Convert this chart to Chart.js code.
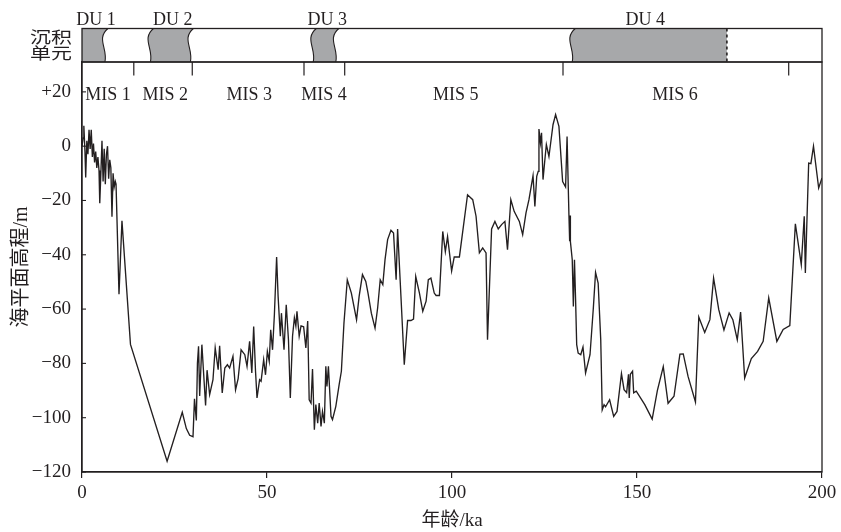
<!DOCTYPE html>
<html>
<head>
<meta charset="utf-8">
<script src="https://cdn.jsdelivr.net/npm/chart.js@4.4.1/dist/chart.umd.min.js"></script>
<style>
    html, body { margin: 0; padding: 0; background: #fff; }
</style>
</head>
<body>
<canvas id="graficoNivelMar" width="841" height="532"></canvas>
<script>
// idade (ka) e nivel do mar (m)
const idade = [
    0, 0.3, 0.5, 0.8, 1.0, 1.3, 1.6, 1.9, 2.2, 2.5, 2.8, 3.1, 3.4, 3.7, 4.0, 4.3, 4.6, 4.8, 5.1, 5.4,
    5.7, 6.0, 6.3, 6.6, 6.9, 7.2, 7.5, 7.8, 8.1, 8.4, 8.7, 9.0, 9.2, 10.0, 10.8, 13.1, 23.0, 27.1, 28.2, 29.1,
    30.0, 30.4, 30.9, 31.2, 31.5, 31.8, 32.4, 33.4, 33.8, 34.5, 35.4, 36.0, 36.8, 37.2, 37.9, 38.6, 39.3, 39.9, 40.8, 41.5,
    42.2, 43.0, 44.0, 44.6, 45.3, 45.9, 46.4, 46.9, 47.3, 48.0, 48.4, 49.1, 49.6, 50.1, 50.6, 51.0, 51.5, 52.0, 52.6, 53.0,
    53.6, 53.9, 54.6, 55.2, 55.8, 56.3, 56.9, 57.4, 57.8, 58.1, 58.7, 59.2, 59.9, 60.5, 61.0, 61.4, 61.9, 62.3, 62.8, 63.2,
    63.7, 64.1, 64.6, 65.0, 65.5, 65.9, 66.2, 66.6, 67.3, 67.7, 68.6, 69.5, 70.1, 70.8, 71.7, 72.8, 73.5, 74.2, 74.9, 75.8,
    76.7, 77.3, 78.2, 79.2, 79.9, 80.6, 81.3, 81.9, 82.6, 83.5, 84.2, 84.9, 85.3, 86.2, 87.1, 88.0, 88.9, 89.6, 90.2, 91.2,
    92.1, 93.0, 93.6, 94.3, 95.2, 95.7, 96.6, 97.5, 98.2, 98.8, 99.9, 100.6, 102.0, 104.2, 105.6, 106.5, 107.4, 108.3, 109.2, 109.6,
    110.7, 111.6, 112.5, 113.4, 114.3, 115.0, 115.9, 116.8, 118.2, 119.1, 120.0, 120.8, 121.9, 122.4, 122.9, 123.3, 123.5, 123.9, 124.2, 124.6,
    125.1, 125.5, 126.2, 127.3, 128.0, 128.9, 129.9, 130.7, 131.1, 131.6, 131.8, 131.9, 132.0, 132.5, 132.8, 133.1, 133.4, 133.7, 134.1, 134.8,
    135.4, 136.1, 137.3, 138.2, 138.8, 139.5, 140.2, 140.6, 141.1, 141.5, 142.6, 143.7, 144.6, 145.8, 146.5, 147.2, 147.7, 147.9, 148.2, 148.8,
    149.1, 149.8, 152.1, 154.1, 155.5, 157.1, 158.4, 160.0, 161.6, 162.5, 163.8, 165.8, 166.7, 168.3, 169.7, 170.7, 172.1, 173.5, 174.9, 175.9,
    177.1, 178.0, 179.1, 180.9, 182.6, 184.1, 185.6, 187.8, 189.5, 191.3, 192.8, 194.4, 195.2, 195.5, 196.4, 197.0, 197.7, 199.1, 200
];
const nivelMar = [
    0, 3, 7.5, -2, -11.5, 2, -3, 6, -1, 6, -4, 1, -6, -2, -8, -4, -9, -21, -10, 2,
    -13, -1, -14, -3, 0, -12, -5, -8, -26, -10, -15, -13, -14, -54.5, -27.5, -73, -116, -98, -104, -106.5,
    -107, -93, -101, -80, -73.7, -92, -73.1, -95.5, -82.5, -91.5, -86, -74.3, -82.3, -73.5, -90.9, -81.7, -80.5, -81.7, -77.4, -89.7,
    -85.6, -75, -76.8, -81.1, -71.9, -83.5, -66.4, -83, -92.7, -86, -86.6, -78.6, -84.2, -75.6, -79.2, -67.6, -75, -62, -40.8, -55.3,
    -70, -61.5, -75, -58.4, -71.3, -92.7, -70, -63.2, -66.2, -60.8, -70, -66.2, -66.5, -74.3, -64.4, -93.4, -94.6, -82.1, -104.4, -95.2,
    -102, -94.6, -103.2, -97.7, -102, -81.1, -88.5, -81.1, -99.5, -100.7, -95.8, -87.8, -82.9, -65.1, -49.2, -54.1, -59, -63.9, -55.3, -47.3,
    -49.8, -54.1, -61.5, -67, -59.6, -49.2, -51, -41.8, -34.4, -31, -32, -49.2, -30.5, -55.3, -80.5, -64.2, -64.2, -63.7, -48, -54.1,
    -60.8, -57.1, -49.2, -48.6, -54.1, -55, -55, -31.4, -38.8, -33.3, -46, -40.8, -40.8, -17.9, -19.7, -25.8, -39.3, -37.5, -39.3, -71.3,
    -30.5, -27.7, -30.5, -28.9, -27.7, -38.1, -19.7, -24, -27.7, -32.6, -24.6, -19.7, -10.9, -22.2, -11.1, -9.3, 6.3, 1.2, 4.9, -12.3,
    -5, 0.6, -3.8, 7.9, 11.6, 7.3, -13, -15, 3.6, -25.2, -35, -25.5, -35.1, -41.8, -59, -41.8, -56.5, -73.1, -76.2, -76.8,
    -74, -83.5, -76.8, -59.6, -46.5, -50.4, -71.3, -97.1, -95.2, -96, -93.4, -99.5, -97.7, -83.8, -89.7, -90.8, -84, -92.7, -84, -82.9,
    -90.8, -90.2, -95.2, -100.5, -90, -81.2, -94.7, -92.1, -76.6, -76.5, -84.8, -94.2, -62.9, -68.6, -63.9, -48.6, -60.2, -67.7, -61.4, -63.9,
    -71.3, -61.1, -85.4, -78.2, -75.6, -71.9, -55.9, -71.9, -67.5, -66.1, -28.6, -43.6, -25.8, -46.7, -6.2, -6.4, 0, -15.4, -11.7
];

// eixos
const ticksX = [0, 50, 100, 150, 200];
const ticksY = [-120, -110, -100, -90, -80, -70, -60, -50, -40, -30, -20, -10, 0, 10, 20, 30];

// estagios isotopicos (MIS)
const misLimites = [14, 29.8, 60, 71, 130, 191];
const misNomes = ['MIS 1', 'MIS 2', 'MIS 3', 'MIS 4', 'MIS 5', 'MIS 6'];
const misCentros = [7, 22.5, 45.2, 65.4, 101, 160.3];

// unidades deposicionais (DU)
const duNomes = ['DU 1', 'DU 2', 'DU 3', 'DU 4'];
const duInicio = [0, 18.5, 62.5, 132.5];
const duFim = [6.2, 29.3, 68.6, 174.3];
const duCentros = [3.8, 24.5, 66.3, 152.2];

const corLinha = '#231f20';
const fonte = '"Liberation Serif", "Noto Sans CJK SC", serif';

// borda ondulada (forma de S suave), de cima para baixo e de baixo para cima
function ondaDesce(ctx, x, topo, base) {
    const h = base - topo;
    ctx.bezierCurveTo(x - 9, topo + h * 0.3, x + 3, topo + h * 0.6, x, base);
}
function ondaSobe(ctx, x, topo, base) {
    const h = base - topo;
    ctx.bezierCurveTo(x + 3, topo + h * 0.6, x - 9, topo + h * 0.3, x + 3, topo);
}

const faixaDU = {
    id: 'faixaDU',
    afterDraw(chart) {
        const ctx = chart.ctx;
        const xs = chart.scales.x;
        const ys = chart.scales.y;
        const area = chart.chartArea;
        const topo = area.top - 33.5;
        const base = area.top;

        ctx.save();

        // preenchimento cinza
        for (let i = 0; i < duNomes.length; i++) {
            const x0 = xs.getPixelForValue(duInicio[i]);
            const x1 = xs.getPixelForValue(duFim[i]);
            const ondaEsq = i > 0;
            const ondaDir = i < 3;

            ctx.beginPath();
            ctx.moveTo(ondaEsq ? x0 + 3 : x0, topo);
            ctx.lineTo(ondaDir ? x1 + 3 : x1, topo);
            if (ondaDir) ondaDesce(ctx, x1, topo, base);
            else ctx.lineTo(x1, base);
            ctx.lineTo(ondaEsq ? x0 : x0, base);
            if (ondaEsq) ondaSobe(ctx, x0, topo, base);
            ctx.closePath();
            ctx.fillStyle = '#a7a8aa';
            ctx.fill();

            ctx.strokeStyle = corLinha;
            ctx.lineWidth = 1.1;
            if (ondaEsq) {
                ctx.beginPath();
                ctx.moveTo(x0 + 3, topo);
                ondaDesce(ctx, x0, topo, base);
                ctx.stroke();
            }
            if (ondaDir) {
                ctx.beginPath();
                ctx.moveTo(x1 + 3, topo);
                ondaDesce(ctx, x1, topo, base);
                ctx.stroke();
            } else {
                ctx.setLineDash([3, 3]);
                ctx.lineWidth = 1.6;
                ctx.beginPath();
                ctx.moveTo(x1, topo);
                ctx.lineTo(x1, base);
                ctx.stroke();
                ctx.setLineDash([]);
            }

            ctx.fillStyle = corLinha;
            ctx.font = '18px ' + fonte;
            ctx.textAlign = 'center';
            ctx.textBaseline = 'alphabetic';
            ctx.fillText(duNomes[i], xs.getPixelForValue(duCentros[i]), topo - 4);
        }

        // moldura da faixa e do grafico
        ctx.strokeStyle = corLinha;
        ctx.lineWidth = 1.3;
        ctx.strokeRect(area.left, topo, area.right - area.left, base - topo);
        ctx.strokeRect(area.left, area.top, area.right - area.left, area.bottom - area.top);

        // marcas dos limites MIS
        ctx.lineWidth = 1.2;
        misLimites.forEach(v => {
            const x = xs.getPixelForValue(v);
            ctx.beginPath();
            ctx.moveTo(x, base);
            ctx.lineTo(x, base + 13.5);
            ctx.stroke();
        });

        ctx.fillStyle = corLinha;
        ctx.font = '18px ' + fonte;
        ctx.textAlign = 'center';
        ctx.textBaseline = 'alphabetic';
        misNomes.forEach((nome, i) => {
            ctx.fillText(nome, xs.getPixelForValue(misCentros[i]), base + 37.5);
        });

        // marcas internas do eixo y
        ctx.lineWidth = 1.1;
        ys.ticks.forEach(t => {
            const y = ys.getPixelForValue(t.value);
            ctx.beginPath();
            ctx.moveTo(area.left, y);
            ctx.lineTo(area.left + 4, y);
            ctx.stroke();
        });

        // rotulo da faixa
        ctx.font = '21px ' + fonte;
        ctx.textAlign = 'right';
        ctx.textBaseline = 'middle';
        ctx.translate(72, 0);
        ctx.scale(1, 0.78);
        ctx.fillText('沉积', 0, 39 / 0.78);
        ctx.fillText('单元', 0, 55 / 0.78);

        ctx.restore();
    }
};

const ctx = document.getElementById('graficoNivelMar');

new Chart(ctx, {
    type: 'line',

    data: {
        datasets: [
            {
                data: idade.map((a, i) => ({ x: a, y: nivelMar[i] })),
                borderColor: corLinha,
                borderWidth: 1.35,
                pointRadius: 0,
                tension: 0
            }
        ]
    },

    options: {
        responsive: false,
        animation: false,
        layout: {
            padding: { top: 62, right: 19, bottom: 0, left: 0 }
        },
        plugins: {
            legend: { display: false },
            tooltip: { enabled: false }
        },
        scales: {
            x: {
                type: 'linear',
                min: 0,
                max: 200,
                afterBuildTicks: s => { s.ticks = ticksX.map(v => ({ value: v })); },
                afterFit: s => { s.height = 60; },
                border: { display: true, color: corLinha, width: 1.3 },
                grid: { drawOnChartArea: false, tickLength: 6, color: corLinha, lineWidth: 1.2 },
                ticks: {
                    padding: 4,
                    color: corLinha,
                    font: { family: fonte, size: 19 },
                    maxRotation: 0
                },
                title: {
                    display: true,
                    text: '年龄/ka',
                    color: corLinha,
                    font: { family: fonte, size: 19 },
                    padding: { top: 1, bottom: 0 }
                }
            },
            y: {
                min: -120,
                max: 31,
                afterBuildTicks: s => { s.ticks = ticksY.map(v => ({ value: v })); },
                afterFit: s => { s.width = 82; },
                border: { display: true, color: corLinha, width: 1.3 },
                grid: { display: true, drawOnChartArea: false, drawTicks: false },
                ticks: {
                    padding: 11,
                    color: corLinha,
                    font: { family: fonte, size: 19 },
                    callback: v => {
                        if (v % 20 !== 0) return null;
                        if (v > 0) return '+' + v;
                        if (v < 0) return '\u2212' + Math.abs(v);
                        return '0';
                    }
                },
                title: {
                    display: true,
                    text: '海平面高程/m',
                    color: corLinha,
                    font: { family: fonte, size: 20 },
                    padding: { top: 10, bottom: 0 }
                }
            }
        }
    },

    plugins: [faixaDU]
});
</script>
</body>
</html>
